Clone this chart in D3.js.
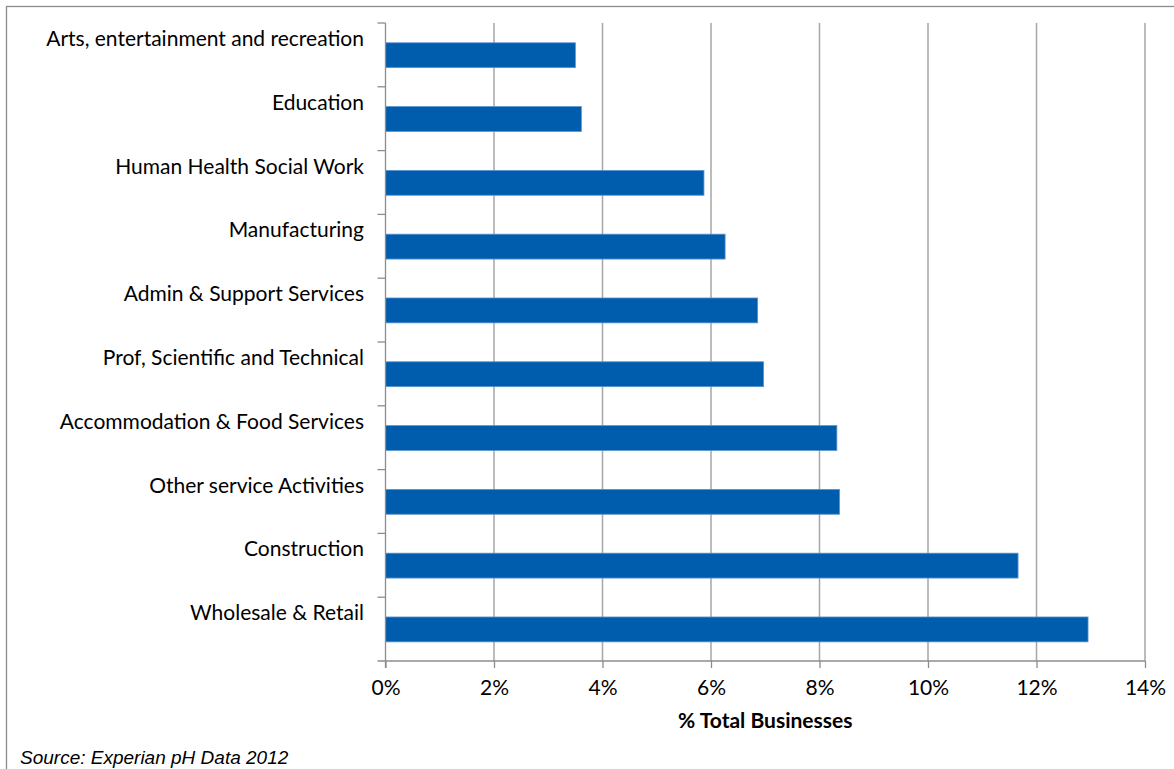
<!DOCTYPE html>
<html>
<head>
<meta charset="utf-8">
<script src="https://cdn.jsdelivr.net/npm/d3@7"></script>
<style>
  html, body { margin: 0; padding: 0; background: #fff; }
  svg { display: block; }
</style>
</head>
<body>
<svg id="chart" width="1174" height="769"></svg>
<script>
// Share of total businesses by industry sector
const categories = [
  "Arts, entertainment and recreation",
  "Education",
  "Human Health Social Work",
  "Manufacturing",
  "Admin & Support Services",
  "Prof, Scientific and Technical",
  "Accommodation & Food Services",
  "Other service Activities",
  "Construction",
  "Wholesale & Retail"
];
const shares = [3.50, 3.61, 5.87, 6.26, 6.86, 6.97, 8.32, 8.37, 11.66, 12.95];
const xTicks = [0, 2, 4, 6, 8, 10, 12, 14];
const xTickLabels = ["0%", "2%", "4%", "6%", "8%", "10%", "12%", "14%"];
const axisTitle = "% Total Businesses";
const sourceNote = "Source: Experian pH Data 2012";

const data = categories.map((c, i) => ({ category: c, value: shares[i] }));

const svg = d3.select("#chart");
const labelFont = "Lato, 'Open Sans', sans-serif";

const plot = { left: 385.5, right: 1145, top: 23, bottom: 661 };

const x = d3.scaleLinear().domain([0, 14]).range([plot.left, plot.right]);
const y = d3.scaleBand().domain(categories).range([plot.top, plot.bottom]);
const bw = y.bandwidth();

// chart area frame
svg.append("rect")
  .attr("x", 6.5).attr("y", 6.5)
  .attr("width", 1200).attr("height", 800)
  .attr("fill", "#fff").attr("stroke", "#8c8c8c").attr("stroke-width", 1.3);

// vertical gridlines
svg.append("g")
  .selectAll("line")
  .data(xTicks.slice(1))
  .join("line")
  .attr("x1", d => x(d)).attr("x2", d => x(d))
  .attr("y1", plot.top).attr("y2", plot.bottom)
  .attr("stroke", "#a6a6a6").attr("stroke-width", 1.5);

// bars, sitting in the lower part of each category band
svg.append("g")
  .selectAll("rect")
  .data(data)
  .join("rect")
  .attr("x", x(0))
  .attr("y", d => y(d.category) + bw * 0.31)
  .attr("width", d => x(d.value) - x(0))
  .attr("height", bw * 0.39)
  .attr("fill", "#005dae")
  .attr("stroke", "#5b93cf")
  .attr("stroke-width", 0.8);

// x axis
const xAxis = d3.axisBottom(x)
  .tickValues(xTicks)
  .tickFormat((d, i) => xTickLabels[i])
  .tickSize(7)
  .tickPadding(12)
  .tickSizeOuter(0);

const gx = svg.append("g")
  .attr("transform", `translate(0,${plot.bottom})`)
  .call(xAxis);
gx.select(".domain").attr("stroke", "#8c8c8c").attr("stroke-width", 1.3)
  .attr("d", `M${plot.left - 8},0H${plot.right}`);
gx.selectAll(".tick line").attr("stroke", "#8c8c8c").attr("stroke-width", 1.3);
gx.selectAll(".tick text")
  .attr("fill", "#000")
  .style("font-family", labelFont)
  .style("font-size", "21px");

// y axis: ticks at band boundaries, labels placed above bars
const boundaries = d3.range(categories.length + 1).map(i => plot.top + i * bw);
const gy = svg.append("g");
gy.append("line")
  .attr("x1", plot.left).attr("x2", plot.left)
  .attr("y1", plot.top).attr("y2", plot.bottom + 7)
  .attr("stroke", "#8c8c8c").attr("stroke-width", 1.3);
gy.selectAll("line.tick")
  .data(boundaries.slice(0, -1))
  .join("line")
  .attr("class", "tick")
  .attr("x1", plot.left - 8).attr("x2", plot.left)
  .attr("y1", d => d).attr("y2", d => d)
  .attr("stroke", "#8c8c8c").attr("stroke-width", 1.3);
gy.selectAll("text")
  .data(categories)
  .join("text")
  .attr("x", 364)
  .attr("y", d => y(d) + 23)
  .attr("text-anchor", "end")
  .attr("fill", "#000")
  .style("font-family", labelFont)
  .style("font-size", "21px")
  .text(d => d);

// axis title
svg.append("text")
  .attr("x", (plot.left + plot.right) / 2)
  .attr("y", 728)
  .attr("text-anchor", "middle")
  .style("font-family", labelFont)
  .style("font-weight", "bold")
  .style("font-size", "21px")
  .text(axisTitle);

// source note
svg.append("text")
  .attr("x", 20)
  .attr("y", 764)
  .style("font-family", "'Liberation Sans', Arial, sans-serif")
  .style("font-style", "italic")
  .style("font-size", "19px")
  .text(sourceNote);
</script>
</body>
</html>
